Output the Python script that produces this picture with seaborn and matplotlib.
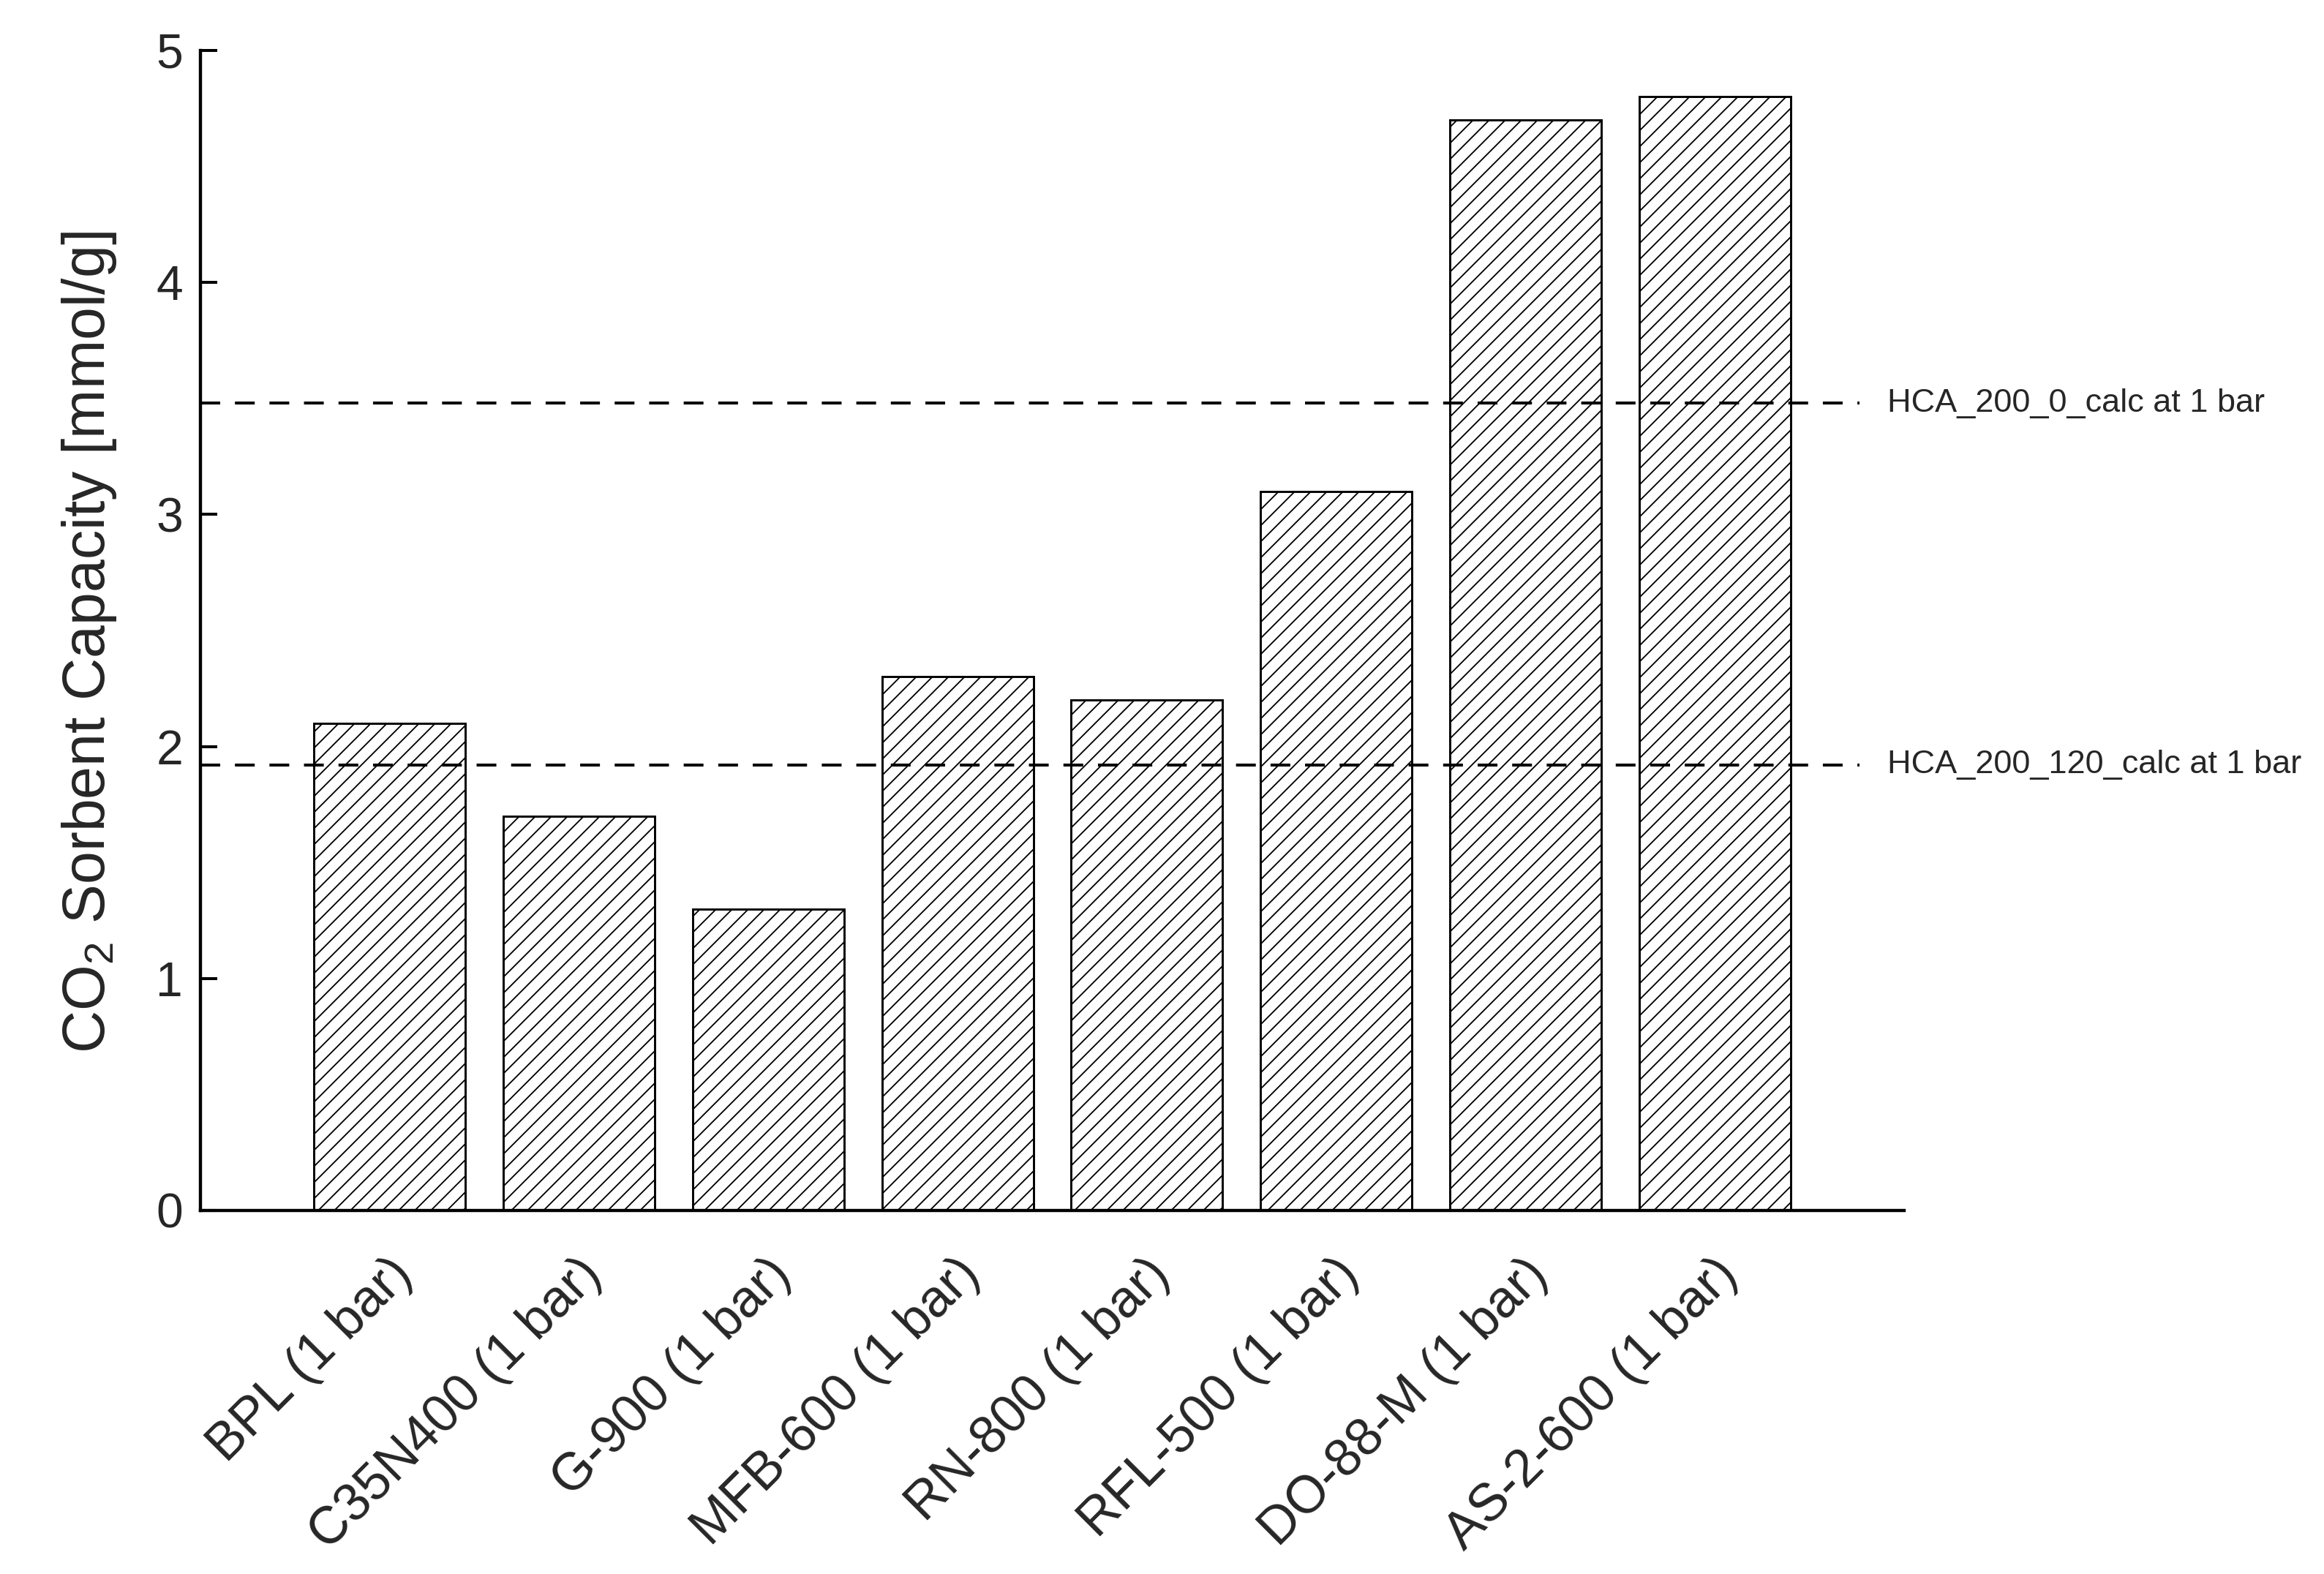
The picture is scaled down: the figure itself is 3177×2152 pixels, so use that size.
import matplotlib
matplotlib.use("Agg")
import matplotlib.pyplot as plt
import matplotlib.transforms as mtransforms
import seaborn as sns

materials = ["BPL (1 bar)", "C35N400 (1 bar)", "G-900 (1 bar)", "MFB-600 (1 bar)",
             "RN-800 (1 bar)", "RFL-500 (1 bar)", "DO-88-M (1 bar)", "AS-2-600 (1 bar)"]
capacity = [2.1, 1.7, 1.3, 2.3, 2.2, 3.1, 4.7, 4.8]

ref_values = [3.48, 1.92]
ref_labels = ["HCA_200_0_calc at 1 bar", "HCA_200_120_calc at 1 bar"]

yticks = [0, 1, 2, 3, 4, 5]

sns.set_theme(style="ticks")
plt.rcParams['font.family'] = ['Liberation Sans', 'DejaVu Sans']
plt.rcParams['mathtext.fontset'] = 'custom'
plt.rcParams['mathtext.rm'] = 'Liberation Sans'
plt.rcParams['mathtext.it'] = 'Liberation Sans'
plt.rcParams['hatch.linewidth'] = 0.5
plt.rcParams['hatch.color'] = 'black'

DPI = 264
fig = plt.figure(figsize=(3177 / DPI, 2152 / DPI), dpi=DPI)
ax = fig.add_axes([0.08624, 0.23095, 0.73308, 0.73699])

sns.barplot(x=materials, y=capacity, color="white", edgecolor="black",
            linewidth=0.8, width=0.8, saturation=1, ax=ax)
for p in ax.patches:
    p.set_facecolor("white")
    p.set_hatch("////")

for val, lab in zip(ref_values, ref_labels):
    ax.axhline(val, xmin=0, xmax=0.974, color="black", lw=1.1,
               dashes=(6.7, 5.0), zorder=3)
    trans = mtransforms.blended_transform_factory(ax.transAxes, ax.transData)
    ax.text(0.99, val, lab, transform=trans, fontsize=12.3,
            ha="left", va="center", clip_on=False)

ax.set_xlim(-1, 8)
ax.set_ylim(0, 5)
ax.set_yticks(yticks)
ax.set_yticklabels([str(t) for t in yticks], fontsize=18)
ax.tick_params(axis="y", direction="in", length=6.3, width=1.1, pad=6.5, color="black")
ax.tick_params(axis="x", length=0, pad=21)
ax.set_xticks(range(len(materials)))
ax.set_xticklabels(materials, rotation=45, ha="right", va="center",
                   rotation_mode="anchor", fontsize=19.5)
shift = mtransforms.ScaledTranslation(5.5 / 72, 0, fig.dpi_scale_trans)
for lbl in ax.get_xticklabels():
    lbl.set_transform(lbl.get_transform() + shift)

ax.set_ylabel("CO$_2$ Sorbent Capacity [mmol/g]", fontsize=22)
ax.yaxis.set_label_coords(-0.048, 0.49)
ax.set_xlabel("")

for side in ["top", "right"]:
    ax.spines[side].set_visible(False)
for side in ["left", "bottom"]:
    ax.spines[side].set_linewidth(1.2)
    ax.spines[side].set_color("black")

fig.savefig("out.png", dpi=DPI, facecolor="white")
